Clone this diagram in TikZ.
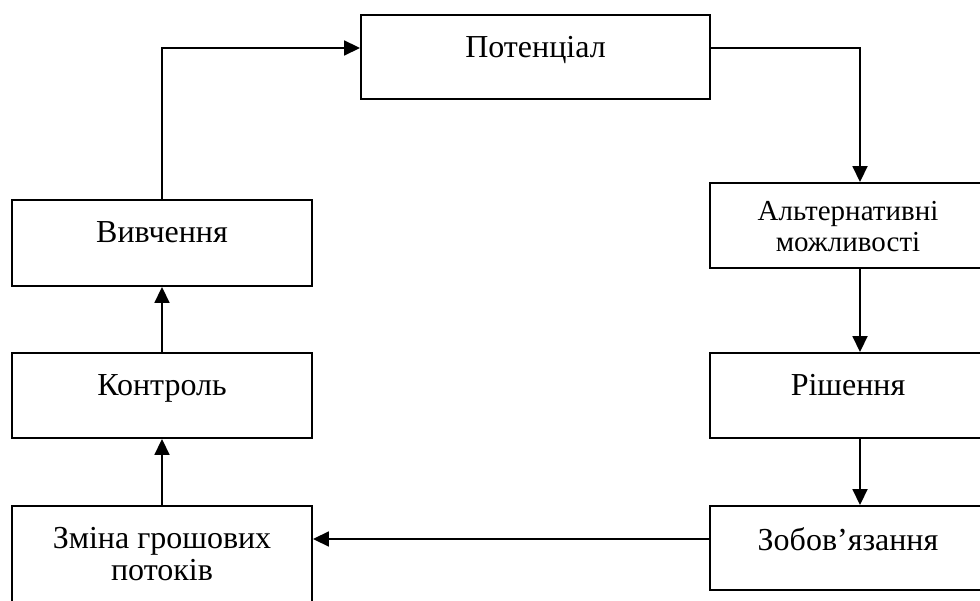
\documentclass[tikz,border=0pt]{standalone}
\usepackage{fontspec}
\setmainfont{Liberation Serif}
\usetikzlibrary{arrows.meta}
\tikzset{
  block/.style={draw, line width=1.9pt, minimum width=300pt, inner sep=0pt},
  rblock/.style={block, minimum width=276pt},
  blocktext/.style={anchor=north, yshift=-22pt, align=center, inner sep=0pt, font=\fontsize{32}{32.5}\selectfont},
  smalltext/.style={blocktext, yshift=3pt, font=\fontsize{29}{31}\selectfont},
  arr/.style={line width=1.8pt, -{Triangle[length=16pt,width=15pt]}}
}
\begin{document}
\begin{tikzpicture}[x=1pt,y=-1pt]
    	\clip (0,0) rectangle (980,601);
    	% top
    	\node[block, minimum width=349pt, minimum height=84pt, label={[blocktext]north:Потенціал}] (pot) at (535.5,57) {};
    	% right column
    	\node[rblock, minimum height=85pt, label={[smalltext]north:Альтернативні\\можливості}] (alt) at (848,225.5) {};
    	\node[rblock, minimum height=85pt, label={[blocktext]north:Рішення}] (rish) at (848,395.5) {};
    	\node[rblock, minimum height=84pt, label={[blocktext]north:Зобов’язання}] (zob) at (848,548) {};
    	% left column
    	\node[block, minimum height=86pt, label={[blocktext]north:Вивчення}] (viv) at (162,243) {};
    	\node[block, minimum height=85pt, label={[blocktext]north:Контроль}] (kon) at (162,395.5) {};
    	\node[block, minimum height=114pt, label={[blocktext]north:Зміна грошових\\потоків}] (zmina) at (162,563) {};
    	% connectors
    	\coordinate (ytop) at (0,48);
    	\coordinate (ylow) at (0,539);
    	\coordinate (rcol) at (860,0);
    	\draw[arr] (viv.north) |- (pot.west |- ytop);
    	\draw[arr] (pot.east |- ytop) -| (alt.north -| rcol);
    	\draw[arr] (alt.south -| rcol) -- (rish.north -| rcol);
    	\draw[arr] (rish.south -| rcol) -- (zob.north -| rcol);
    	\draw[arr] (zob.west |- ylow) -- (zmina.east |- ylow);
    	\draw[arr] (zmina.north) -- (kon.south);
    	\draw[arr] (kon.north) -- (viv.south);
\end{tikzpicture}
\end{document}
